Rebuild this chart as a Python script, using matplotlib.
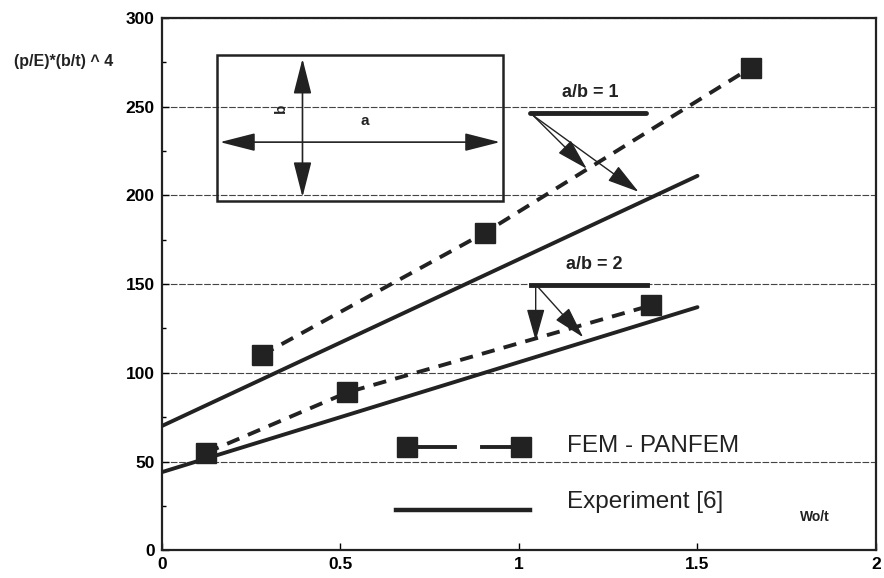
import matplotlib.pyplot as plt
import numpy as np

# FEM - PANFEM results (squares, dashed)
fem_x_ab1 = [0.28, 0.905, 1.65]
fem_y_ab1 = [110, 179, 272]
fem_x_ab2 = [0.125, 0.52, 1.37]
fem_y_ab2 = [55, 89, 138]

# Experiment [6] (solid)
exp_x_ab1 = [0.0, 1.5]
exp_y_ab1 = [70, 211]
exp_x_ab2 = [0.0, 1.5]
exp_y_ab2 = [44, 137]

xticks = [0, 0.5, 1, 1.5, 2]
xtick_labels = ['0', '0.5', '1', '1.5', '2']
yticks = [0, 50, 100, 150, 200, 250, 300]

ink = '#222222'
plt.rcParams['font.family'] = ['Liberation Sans', 'DejaVu Sans']

fig = plt.figure(figsize=(8.84, 5.78), dpi=100)
ax = fig.add_axes([0.183, 0.048, 0.808, 0.921])

dash = (0, (3.4, 2.4))
for x, y in [(fem_x_ab1, fem_y_ab1), (fem_x_ab2, fem_y_ab2)]:
    ax.plot(x, y, color=ink, lw=2.8, linestyle=dash, zorder=3)
    ax.plot(x, y, 's', color=ink, markersize=14, linestyle='none', zorder=4)
for x, y in [(exp_x_ab1, exp_y_ab1), (exp_x_ab2, exp_y_ab2)]:
    ax.plot(x, y, color=ink, lw=2.8, zorder=3, solid_capstyle='round')

ax.set_xlim(0, 2)
ax.set_ylim(0, 300)
ax.set_xticks(xticks)
ax.set_xticklabels(xtick_labels)
ax.set_yticks(yticks)
ax.set_yticks(np.arange(25, 300, 50), minor=True)
ax.tick_params(direction='in', length=5, width=1, labelsize=12.5, pad=5)
ax.tick_params(which='minor', direction='in', length=3, width=1)
for lab in ax.get_xticklabels() + ax.get_yticklabels():
    lab.set_fontweight('bold')
ax.grid(axis='y', linestyle=(0, (6, 1.5)), color='#444444', lw=0.8)
for s in ax.spines.values():
    s.set_linewidth(1.6)
    s.set_color(ink)

# y label and x label
fig.text(0.072, 0.893, '(p/E)*(b/t) ^ 4', fontsize=11.5, fontweight='bold',
         ha='center', va='center', color=ink)
ax.text(1.83, 19, 'Wo/t', fontsize=10, fontweight='bold', ha='center',
        va='center', color=ink)

# inset plate sketch
ax.add_patch(plt.Rectangle((0.155, 197), 0.8, 82, fill=False, lw=1.8,
                           edgecolor=ink, zorder=5))
arrow_kw = dict(arrowstyle='<|-|>,head_length=1.1,head_width=0.28', color=ink,
                lw=1.2, mutation_scale=20, shrinkA=0, shrinkB=0)
ax.annotate('', xy=(0.394, 277), xytext=(0.394, 199), arrowprops=arrow_kw)
ax.annotate('', xy=(0.163, 230), xytext=(0.947, 230), arrowprops=arrow_kw)
ax.text(0.335, 249, 'b', rotation=90, fontsize=11, fontweight='bold',
        ha='center', va='center', color=ink)
ax.text(0.567, 242, 'a', fontsize=11, fontweight='bold', ha='center',
        va='center', color=ink)

# a/b labels with arrows
ptr = dict(arrowstyle='-|>,head_length=1.0,head_width=0.28', color=ink,
           lw=1.0, mutation_scale=20, shrinkA=0, shrinkB=0)
ax.text(1.2, 258, 'a/b = 1', fontsize=13, fontweight='bold', ha='center',
        va='center', color=ink)
ax.plot([1.03, 1.355], [246.5, 246.5], color=ink, lw=3.5,
        solid_capstyle='round')
ax.annotate('', xy=(1.19, 215), xytext=(1.04, 245), arrowprops=ptr)
ax.annotate('', xy=(1.335, 202), xytext=(1.04, 245), arrowprops=ptr)

ax.text(1.21, 161, 'a/b = 2', fontsize=13, fontweight='bold', ha='center',
        va='center', color=ink)
ax.plot([1.035, 1.36], [149.5, 149.5], color=ink, lw=3.5)
ax.annotate('', xy=(1.047, 118), xytext=(1.047, 148), arrowprops=ptr)
ax.annotate('', xy=(1.18, 120), xytext=(1.055, 148), arrowprops=ptr)

# hand-drawn legend
ax.plot([0.687, 0.82], [58, 58], color=ink, lw=2.8)
ax.plot([0.897, 1.005], [58, 58], color=ink, lw=2.8)
ax.plot([0.687, 1.005], [58, 58], 's', color=ink, markersize=14)
ax.text(1.134, 59, 'FEM - PANFEM', fontsize=17.5, ha='left', va='center',
        color=ink)
ax.plot([0.656, 1.03], [22.5, 22.5], color=ink, lw=3.2)
ax.text(1.134, 27, 'Experiment [6]', fontsize=17.5, ha='left', va='center',
        color=ink)

plt.savefig('out.png', dpi=100)
